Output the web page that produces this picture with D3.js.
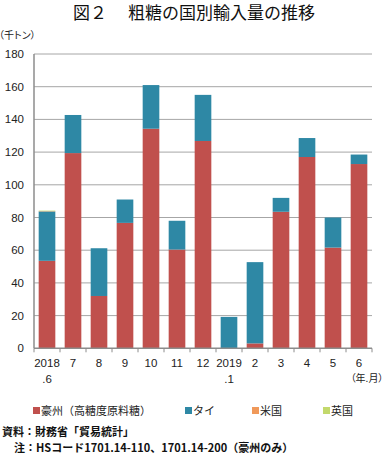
<!DOCTYPE html>
<html>
<head>
<meta charset="utf-8">
<script src="https://cdn.jsdelivr.net/npm/d3@7"></script>
<style>
  body { margin: 0; background: #fff; }
  svg { display: block; font-family: "Noto Sans CJK JP", "Noto Sans", sans-serif; }
  .num { font-family: "Liberation Sans", Arial, sans-serif; }
</style>
</head>
<body>
<div id="chart"></div>
<script>
// months (year on first line, month on second)
var months = [["2018", ".6"], ["7"], ["8"], ["9"], ["10"], ["11"], ["12"], ["2019", ".1"], ["2"], ["3"], ["4"], ["5"], ["6"]];
var australia = [53.5, 119.4, 32, 76.7, 134.3, 60.4, 126.8, 0, 3, 83.5, 117, 61.6, 112.7];
var thailand = [30.2, 23.3, 29.2, 14.3, 26.7, 17.6, 28.2, 19.2, 49.7, 8.5, 11.6, 18.4, 5.8];
var usa = [0.2, 0, 0, 0, 0, 0, 0, 0, 0, 0, 0, 0, 0];
var uk = [0.3, 0, 0, 0, 0, 0, 0, 0, 0, 0, 0, 0, 0];
var seriesNames = ["豪州（高糖度原料糖）", "タイ", "米国", "英国"];
var yTicks = [0, 20, 40, 60, 80, 100, 120, 140, 160, 180];

var colors = ["#c0504d", "#2e88a5", "#f0995a", "#c3d96c"];

var W = 386, H = 455;
var svg = d3.select("#chart").append("svg").attr("width", W).attr("height", H);

var plotL = 34, plotR = 372, plotT = 54, plotB = 348.3;

var rows = months.map(function (m, i) {
  return { key: i, aus: australia[i], thai: thailand[i], us: usa[i], uk: uk[i] };
});

var x = d3.scaleBand().domain(d3.range(months.length)).range([plotL, plotR]).paddingInner(0.36).paddingOuter(0.18);
var y = d3.scaleLinear().domain([0, 180]).range([plotB, plotT]);

// title
svg.append("text").attr("x", 194).attr("y", 19).attr("text-anchor", "middle")
  .attr("font-size", 17).attr("fill", "#111")
  .text("図２　 粗糖の国別輸入量の推移");

svg.append("text").attr("x", -1).attr("y", 39).attr("font-size", 10).attr("fill", "#222")
  .style("font-feature-settings", "'palt'").text("（千トン）");

// gridlines
svg.append("g").selectAll("line").data(yTicks.slice(1)).enter().append("line")
  .attr("x1", plotL).attr("x2", plotR)
  .attr("y1", function (d) { return y(d); }).attr("y2", function (d) { return y(d); })
  .attr("stroke", "#a6a6a6").attr("stroke-width", 1);

// y labels
svg.append("g").selectAll("text").data(yTicks).enter().append("text")
  .attr("class", "num")
  .attr("x", 24).attr("y", function (d) { return y(d) + 4; })
  .attr("text-anchor", "end").attr("font-size", 11.5).attr("fill", "#222")
  .text(function (d) { return d; });

// stacked bars
var stack = d3.stack().keys(["aus", "thai", "us", "uk"]);
var layers = stack(rows);
svg.append("g").selectAll("g").data(layers).enter().append("g")
  .attr("fill", function (d, i) { return colors[i]; })
  .selectAll("rect").data(function (d) { return d; }).enter().append("rect")
  .attr("x", function (d) { return x(d.data.key); })
  .attr("width", x.bandwidth())
  .attr("y", function (d) { return y(d[1]); })
  .attr("height", function (d) { return Math.max(0, y(d[0]) - y(d[1])); });

// axes
svg.append("line").attr("x1", plotL).attr("x2", plotL).attr("y1", plotT).attr("y2", plotB)
  .attr("stroke", "#8c8c8c").attr("stroke-width", 1.5);
svg.append("line").attr("x1", plotL).attr("x2", plotR).attr("y1", plotB).attr("y2", plotB)
  .attr("stroke", "#8c8c8c").attr("stroke-width", 1.5);

var tickX = d3.range(months.length + 1).map(function (i) { return plotL + i * (plotR - plotL) / months.length; });
svg.append("g").selectAll("line").data(tickX).enter().append("line")
  .attr("x1", function (d) { return d; }).attr("x2", function (d) { return d; })
  .attr("y1", plotB).attr("y2", plotB + 4)
  .attr("stroke", "#8c8c8c");

// x labels
var xl = svg.append("g").selectAll("text").data(months).enter().append("text")
  .attr("class", "num")
  .attr("text-anchor", "middle").attr("font-size", 11.5).attr("fill", "#222")
  .attr("x", function (d, i) { return x(i) + x.bandwidth() / 2; })
  .attr("y", plotB + 19);
xl.each(function (d) {
  var t = d3.select(this);
  d.forEach(function (s, j) {
    t.append("tspan").attr("x", t.attr("x")).attr("dy", j === 0 ? 0 : 16).text(s);
  });
});
svg.append("text").attr("x", 367).attr("y", 382).attr("text-anchor", "middle")
  .attr("font-size", 10).attr("fill", "#222")
  .style("font-feature-settings", "'palt'").text("（年.月）");

// legend
var legendX = [33, 185, 252, 323];
var lg = svg.append("g").selectAll("g").data(seriesNames).enter().append("g")
  .attr("transform", function (d, i) { return "translate(" + legendX[i] + ",415)"; });
lg.append("rect").attr("x", 0).attr("y", -8).attr("width", 7).attr("height", 7)
  .attr("fill", function (d, i) { return colors[i]; });
lg.append("text").attr("x", 8).attr("y", 0).attr("font-size", 11).attr("fill", "#222")
  .text(function (d) { return d; });

// notes
svg.append("text").attr("x", 2).attr("y", 436).attr("font-size", 11).attr("font-weight", "bold").attr("fill", "#111")
  .text("資料：財務省「貿易統計」");
svg.append("text").attr("x", 14).attr("y", 452).attr("font-size", 11).attr("font-weight", "bold").attr("fill", "#111")
  .text("注：HSコード1701.14-110、1701.14-200（豪州のみ）");
</script>
</body>
</html>
